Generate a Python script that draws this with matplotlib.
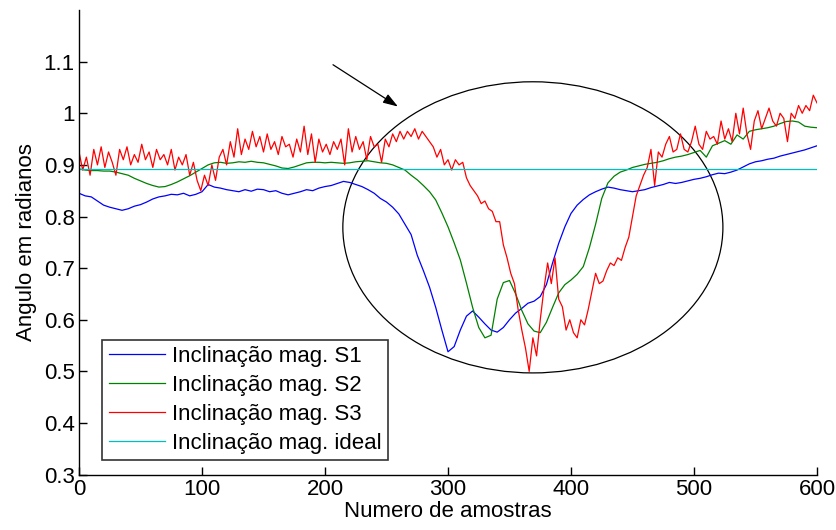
"""Inclinação magnética dos sensores S1, S2, S3 vs. valor ideal."""

import matplotlib

matplotlib.use("Agg")
import matplotlib.pyplot as plt
import numpy as np
from matplotlib.patches import Ellipse
from matplotlib.ticker import FuncFormatter

plt.rcParams["font.family"] = ["Liberation Sans", "DejaVu Sans"]

# sample index grids
smooth_x = np.arange(0, 601, 5)
red_x = np.arange(0, 601, 3)

# S1 (blue), every 5 samples
s1_vals = [
    0.845, 0.84, 0.838, 0.83, 0.822, 0.818, 0.815, 0.812, 0.815, 0.82,
    0.823, 0.828, 0.834, 0.838, 0.84, 0.843, 0.842, 0.845, 0.84, 0.843,
    0.848, 0.862, 0.857, 0.855, 0.852, 0.85, 0.848, 0.852, 0.849, 0.853,
    0.852, 0.848, 0.85, 0.845, 0.842, 0.845, 0.848, 0.852, 0.85, 0.855,
    0.858, 0.86, 0.864, 0.868, 0.866, 0.862, 0.858, 0.852, 0.845, 0.835,
    0.828, 0.818, 0.805, 0.785, 0.765, 0.725, 0.695, 0.663, 0.624, 0.58,
    0.538, 0.548, 0.58, 0.607, 0.617, 0.605, 0.592, 0.58, 0.576, 0.585,
    0.6, 0.613, 0.622, 0.632, 0.636, 0.645, 0.668, 0.71, 0.748, 0.78,
    0.806, 0.822, 0.833, 0.842, 0.848, 0.853, 0.857, 0.855, 0.852, 0.85,
    0.848, 0.85, 0.852, 0.856, 0.859, 0.862, 0.866, 0.864, 0.866, 0.869,
    0.872, 0.874, 0.877, 0.881, 0.884, 0.883, 0.886, 0.89, 0.896, 0.902,
    0.906, 0.908, 0.911, 0.913, 0.917, 0.92, 0.923, 0.926, 0.929, 0.933,
    0.937,
]

# S2 (green), every 5 samples
s2_vals = [
    0.892, 0.89, 0.889, 0.889, 0.888, 0.888, 0.886, 0.883, 0.88, 0.874,
    0.869, 0.864, 0.86, 0.857, 0.858, 0.862, 0.867, 0.873, 0.879, 0.886,
    0.893, 0.9, 0.904, 0.905, 0.903, 0.904, 0.906, 0.905, 0.907, 0.905,
    0.904, 0.901, 0.898, 0.894, 0.893, 0.896, 0.9, 0.904, 0.905, 0.905,
    0.904, 0.905, 0.904, 0.903, 0.904, 0.906, 0.907, 0.908, 0.906, 0.904,
    0.903, 0.9, 0.895, 0.89, 0.88, 0.871, 0.86, 0.848, 0.832, 0.807,
    0.78, 0.749, 0.716, 0.671, 0.624, 0.585, 0.565, 0.57, 0.64, 0.672,
    0.676, 0.65, 0.618, 0.592, 0.578, 0.575, 0.595, 0.624, 0.652, 0.668,
    0.677, 0.688, 0.703, 0.74, 0.785, 0.835, 0.865, 0.878, 0.886, 0.89,
    0.895, 0.898, 0.901, 0.903, 0.905, 0.908, 0.912, 0.915, 0.917, 0.92,
    0.924, 0.928, 0.915, 0.937, 0.942, 0.947, 0.94, 0.958, 0.95, 0.965,
    0.968, 0.97, 0.972, 0.975, 0.98, 0.984, 0.985, 0.983, 0.975, 0.973,
    0.972,
]

# S3 (red), every 3 samples
s3_vals = [
    0.925, 0.89, 0.915, 0.88, 0.93, 0.9, 0.935, 0.895, 0.925, 0.905,
    0.88, 0.93, 0.91, 0.935, 0.9, 0.92, 0.905, 0.94, 0.91, 0.925,
    0.895, 0.93, 0.91, 0.92, 0.9, 0.93, 0.89, 0.915, 0.9, 0.92,
    0.88, 0.905, 0.87, 0.85, 0.88, 0.86, 0.9, 0.87, 0.915, 0.93,
    0.9, 0.945, 0.915, 0.97, 0.92, 0.95, 0.93, 0.965, 0.935, 0.955,
    0.925, 0.96, 0.93, 0.945, 0.92, 0.955, 0.935, 0.94, 0.915, 0.95,
    0.925, 0.975, 0.92, 0.96, 0.905, 0.95, 0.925, 0.94, 0.92, 0.945,
    0.93, 0.95, 0.9, 0.97, 0.925, 0.955, 0.93, 0.945, 0.91, 0.955,
    0.935, 0.94, 0.905, 0.95, 0.935, 0.96, 0.945, 0.965, 0.95, 0.965,
    0.955, 0.97, 0.95, 0.965, 0.955, 0.945, 0.935, 0.915, 0.93, 0.9,
    0.91, 0.89, 0.91, 0.9, 0.905, 0.875, 0.86, 0.85, 0.84, 0.825,
    0.83, 0.815, 0.81, 0.79, 0.79, 0.745, 0.72, 0.69, 0.67, 0.62,
    0.58, 0.545, 0.5, 0.565, 0.53, 0.6, 0.66, 0.71, 0.67, 0.72,
    0.64, 0.625, 0.58, 0.6, 0.575, 0.565, 0.6, 0.59, 0.62, 0.655,
    0.69, 0.67, 0.675, 0.695, 0.71, 0.705, 0.72, 0.715, 0.74, 0.76,
    0.8, 0.84, 0.86, 0.88, 0.895, 0.93, 0.86, 0.925, 0.915, 0.94,
    0.955, 0.925, 0.93, 0.96, 0.93, 0.925, 0.945, 0.975, 0.94, 0.93,
    0.965, 0.95, 0.955, 0.94, 0.985, 0.95, 0.97, 0.945, 1.0, 0.96,
    1.01, 0.96, 0.93, 0.985, 1.005, 0.97, 0.99, 1.01, 0.985, 0.975,
    1.0, 0.99, 0.945, 1.0, 0.99, 1.015, 1.0, 1.015, 1.005, 1.035,
    1.02,
]

ideal_val = 0.892
labels = [
    "Inclinação mag. S1",
    "Inclinação mag. S2",
    "Inclinação mag. S3",
    "Inclinação mag. ideal",
]

fig = plt.figure(figsize=(8.37, 5.30), dpi=100)
ax = fig.add_axes([0.0944, 0.1045, 0.8817, 0.8766])

lw = 0.9
ax.plot(smooth_x, s1_vals, color="#0000ff", lw=lw, label=labels[0])
ax.plot(smooth_x, s2_vals, color="#008000", lw=lw, label=labels[1])
ax.plot(red_x, s3_vals, color="#ff0000", lw=lw, label=labels[2])
ax.plot([0, 600], [ideal_val, ideal_val], color="#00bfbf", lw=lw, label=labels[3])

# highlight of the disturbed region
ax.add_patch(Ellipse((369, 0.779), 309, 0.564, fill=False, ec="black", lw=0.9))
ax.annotate(
    "",
    xy=(259.3, 1.013),
    xytext=(206.5, 1.094),
    arrowprops=dict(arrowstyle="-|>,head_length=0.9,head_width=0.3",
                    color="black", lw=0.9, shrinkA=0, shrinkB=0),
)

fs = 16
ax.set_xlim(0, 600)
ax.set_ylim(0.3, 1.2)
ax.set_xticks(np.arange(0, 601, 100))
ax.set_yticks(np.arange(0.3, 1.15, 0.1))
ax.yaxis.set_major_formatter(FuncFormatter(lambda v, _: f"{v:g}"))
ax.tick_params(direction="in", length=6, width=1, labelsize=fs, pad=3)
for side in ("top", "right"):
    ax.spines[side].set_visible(False)
for side in ("left", "bottom"):
    ax.spines[side].set_linewidth(1.0)

ax.set_xlabel("Numero de amostras", fontsize=fs, labelpad=1)
ax.set_ylabel("Angulo em radianos", fontsize=fs, labelpad=5)

leg = ax.legend(
    loc="lower left",
    bbox_to_anchor=(0.031, 0.031),
    fontsize=fs,
    frameon=True,
    fancybox=False,
    handlelength=2.55,
    labelspacing=0.35,
    borderpad=0.3,
    borderaxespad=0,
    handletextpad=0.3,
)
leg.get_frame().set_edgecolor("black")
leg.get_frame().set_linewidth(1.2)

fig.savefig("out.png", dpi=100)
